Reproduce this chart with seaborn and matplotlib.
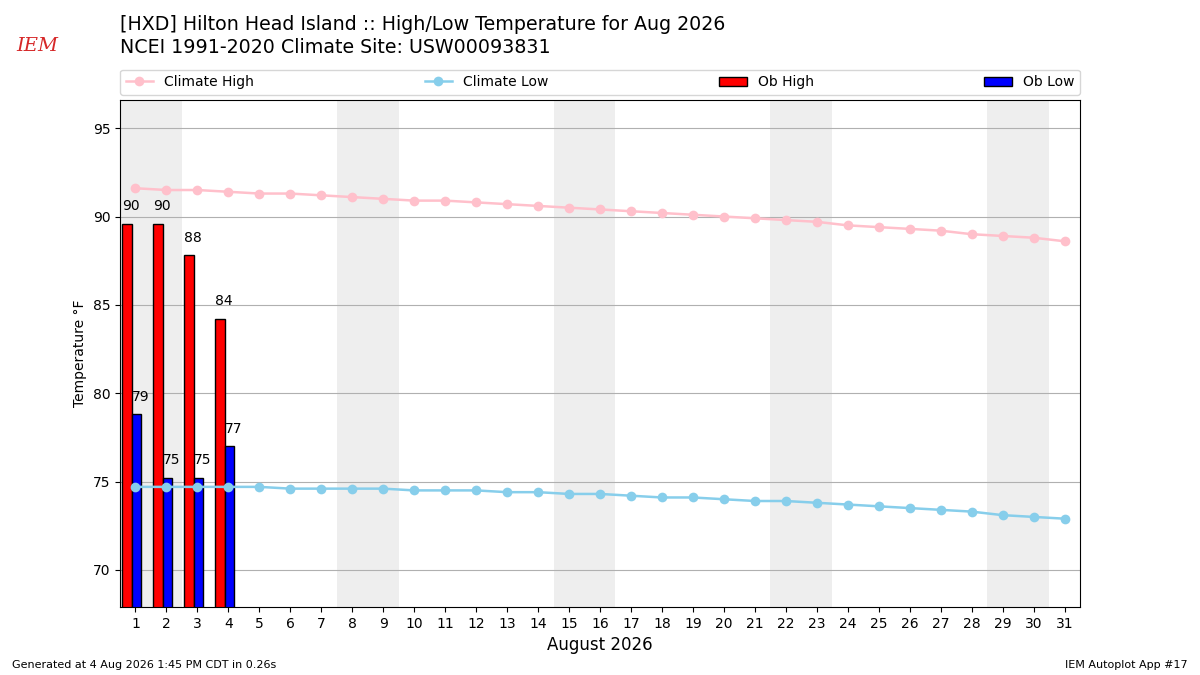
import matplotlib
matplotlib.use("Agg")
import matplotlib.pyplot as plt
import seaborn as sns
import pandas as pd
import numpy as np

# Observed values (first days of the month)
ob_days = [1, 2, 3, 4]
ob_high = [89.6, 89.6, 87.8, 84.2]
ob_low = [78.8, 75.2, 75.2, 77.0]

# NCEI 1991-2020 daily climatology
days = list(range(1, 32))
climate_high = [91.6, 91.5, 91.5, 91.4, 91.3, 91.3, 91.2, 91.1, 91.0, 90.9,
                90.9, 90.8, 90.7, 90.6, 90.5, 90.4, 90.3, 90.2, 90.1, 90.0,
                89.9, 89.8, 89.7, 89.5, 89.4, 89.3, 89.2, 89.0, 88.9, 88.8,
                88.6]
climate_low = [74.7, 74.7, 74.7, 74.7, 74.7, 74.6, 74.6, 74.6, 74.6, 74.5,
               74.5, 74.5, 74.4, 74.4, 74.3, 74.3, 74.2, 74.1, 74.1, 74.0,
               73.9, 73.9, 73.8, 73.7, 73.6, 73.5, 73.4, 73.3, 73.1, 73.0,
               72.9]

clim = pd.DataFrame({"day": days, "high": climate_high, "low": climate_low})
dates = pd.date_range("2026-08-01", "2026-08-31")

fig = plt.figure(figsize=(12, 6.75), dpi=100)
ax = fig.add_axes([0.1, 0.1007, 0.8, 0.7513])

# weekend shading (Sat + Sun)
for d in dates:
    if d.dayofweek == 5:
        ax.axvspan(d.day - 0.5, d.day + 1.5, color="#EEEEEE", zorder=0, lw=0)

ax.bar(np.array(ob_days) - 0.43, ob_high, width=0.31, align="edge",
       color="red", edgecolor="black", label="Ob High", zorder=2)
ax.bar(np.array(ob_days) - 0.12, ob_low, width=0.30, align="edge",
       color="blue", edgecolor="black", label="Ob Low", zorder=2)

for d, v in zip(ob_days, ob_high):
    ax.text(d - 0.43, v + 0.6, f"{v:.0f}", ha="left", va="bottom", fontsize=10, zorder=4)
for d, v in zip(ob_days, ob_low):
    ax.text(d - 0.12, v + 0.6, f"{v:.0f}", ha="left", va="bottom", fontsize=10, zorder=4)

sns.lineplot(data=clim, x="day", y="high", ax=ax, color="pink", marker="o",
             markersize=7, markeredgewidth=0, lw=1.8, label="Climate High", zorder=3)
sns.lineplot(data=clim, x="day", y="low", ax=ax, color="skyblue", marker="o",
             markersize=7, markeredgewidth=0, lw=1.8, label="Climate Low", zorder=3)

ax.set_xlim(0.5, 31.5)
ax.set_ylim(67.9, 96.6)
ax.set_xticks(days)
ax.set_yticks([70, 75, 80, 85, 90, 95])
ax.tick_params(labelsize=10)
ax.yaxis.grid(True, color="#b0b0b0", zorder=1)
ax.set_axisbelow(True)
ax.set_xlabel("August 2026", fontsize=12)
ax.set_ylabel("Temperature \u00b0F", fontsize=10)

handles, labels = ax.get_legend_handles_labels()
order = ["Climate High", "Climate Low", "Ob High", "Ob Low"]
hmap = dict(zip(labels, handles))
ax.legend([hmap[k] for k in order], order, loc="lower left",
          bbox_to_anchor=(0, 1.01, 1, 0.05), mode="expand", ncol=4,
          fontsize=10, borderaxespad=0)

fig.text(0.1, 0.964, "[HXD] Hilton Head Island :: High/Low Temperature for Aug 2026",
         fontsize=13.7, va="center")
fig.text(0.1, 0.930, "NCEI 1991-2020 Climate Site: USW00093831",
         fontsize=13.7, va="center")
fig.text(0.031, 0.932, "IEM", color="#d62728", fontsize=14, fontstyle="italic",
         family="DejaVu Serif", ha="center", va="center")

fig.text(0.01, 0.01, "Generated at 4 Aug 2026 1:45 PM CDT in 0.26s", fontsize=8)
fig.text(0.99, 0.01, "IEM Autoplot App #17", fontsize=8, ha="right")

fig.savefig("out.png", dpi=100)
